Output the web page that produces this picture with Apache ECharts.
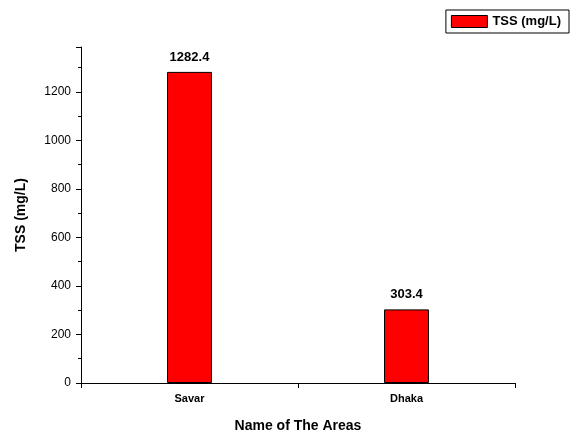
<!DOCTYPE html>
<html><head><meta charset="utf-8">
<script src="https://cdn.jsdelivr.net/npm/echarts@6/dist/echarts.min.js"></script>
<style>html,body{margin:0;padding:0;background:#fff}#c{width:583px;height:444px}</style>
</head><body><div id="c"></div>
<script>
const categories = ['Savar', 'Dhaka'];
const tssValues = [1282.4, 303.4];
const seriesName = 'TSS (mg/L)';

const chart = echarts.init(document.getElementById('c'), null, {renderer: 'canvas'});
const font = 'Liberation Sans, Arial, sans-serif';
chart.setOption({
  animation: false,
  backgroundColor: '#fff',
  textStyle: {fontFamily: font},
  legend: {
    right: 14, top: 10,
    padding: [5, 8, 5, 5],
    borderColor: '#000', borderWidth: 1,
    icon: 'rect',
    itemWidth: 36, itemHeight: 12, itemGap: 6,
    textStyle: {fontSize: 13, fontWeight: 'bold', color: '#000', fontFamily: font},
    data: [{name: seriesName, itemStyle: {borderColor: '#000', borderWidth: 1}}]
  },
  grid: {left: 81, right: 68, top: 47, bottom: 61},
  xAxis: {
    type: 'category', data: categories,
    name: 'Name of The Areas', nameLocation: 'middle', nameGap: 36,
    nameTextStyle: {fontSize: 14, fontWeight: 'bold', color: '#000', fontFamily: font},
    axisLine: {lineStyle: {color: '#000', width: 1}},
    axisTick: {show: true, alignWithLabel: false, length: 5, lineStyle: {color: '#000'}},
    axisLabel: {fontSize: 11, fontWeight: 'bold', color: '#000', margin: 10, fontFamily: font}
  },
  yAxis: {
    type: 'value', min: 0, max: 1385, interval: 200,
    name: 'TSS (mg/L)', nameLocation: 'middle', nameGap: 53,
    nameTextStyle: {fontSize: 14, fontWeight: 'bold', color: '#000', fontFamily: font},
    axisLine: {show: true, lineStyle: {color: '#000', width: 1}},
    axisTick: {show: true, length: 5, lineStyle: {color: '#000'}},
    minorTick: {show: true, splitNumber: 2, length: 3, lineStyle: {color: '#000'}},
    splitLine: {show: false},
    axisLabel: {fontSize: 12, color: '#000', margin: 10, fontFamily: font, showMaxLabel: false,
      formatter: v => (v % 200 === 0 ? String(v) : '')}
  },
  series: [{
    name: seriesName, type: 'bar', data: tssValues, barWidth: '20.7%',
    itemStyle: {color: '#ff0000', borderColor: '#000', borderWidth: 1},
    label: {show: true, position: 'top', distance: 8, fontSize: 13, fontWeight: 'bold', color: '#000', fontFamily: font}
  }]
});
</script></body></html>
